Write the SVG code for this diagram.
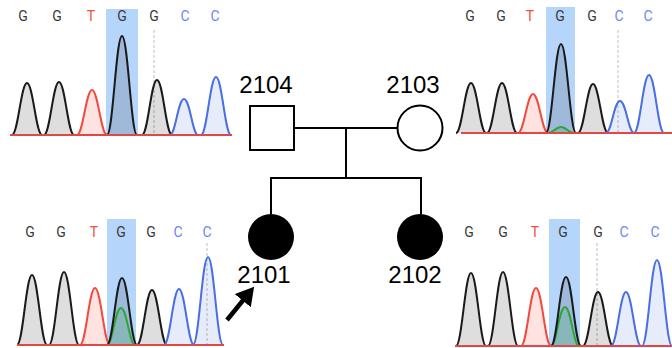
<svg xmlns="http://www.w3.org/2000/svg" width="672" height="348" viewBox="0 0 672 348">
<style>
.hl{fill:#b6d5fb}
.k{fill:#000;fill-opacity:0.13;stroke:#1a1a1a;stroke-width:2}
.r{fill:#ff2a1a;fill-opacity:0.13;stroke:#f24a3e;stroke-width:2}
.b{fill:#3a5fe0;fill-opacity:0.12;stroke:#4a6fe3;stroke-width:2}
.g{fill:#2ec03a;fill-opacity:0.18;stroke:#33c040;stroke-width:2}
.dash{stroke:#bdbdbd;stroke-width:1;stroke-dasharray:3,2}
.base{stroke:#e04848;stroke-width:2}
.nt{font-family:Roboto,"Liberation Sans",sans-serif;font-size:14px;text-anchor:middle}
.nG{fill:#3a3a3a}.nT{fill:#f0503c}.nC{fill:#6c86f0}
.lbl{font-family:"Liberation Sans",Arial,sans-serif;font-size:24px;text-anchor:middle;fill:#000}
.ped{fill:none;stroke:#000;stroke-width:2}
</style>
<defs>
<marker id="ah" markerWidth="4" markerHeight="4.6" refX="2.2" refY="2.3" orient="auto" markerUnits="strokeWidth">
<path d="M0,0 L4,2.3 L0,4.6 Z" fill="#000"/>
</marker>
</defs>

<g id="chrom-2104">
<rect class="hl" x="106" y="9" width="32" height="126"/>
<line class="dash" x1="154" y1="30" x2="154" y2="135"/>
<path class="k" d="M12,135 C18,135 21,83 27,83 C33,83 36,135 42,135"/>
<path class="k" d="M44,135 C50,135 53,82 59,82 C65,82 68,135 74,135"/>
<path class="r" d="M77,135 C83,135 86,90 92,90 C98,90 101,135 107,135"/>
<path class="k" d="M107,135 C113,135 116,36 122,36 C128,36 131,135 137,135"/>
<path class="k" d="M142,135 C148,135 151,80 157,80 C163,80 166,135 172,135"/>
<path class="b" d="M170,135 C175.5,135 178,99 184,99 C190,99 192.5,135 198,135"/>
<path class="b" d="M201,135 C207,135 210,77 216,77 C222,77 225,135 231,135"/>
<line class="base" x1="10" y1="135" x2="232" y2="135"/>
<text class="nt nG" x="23" y="21">G</text>
<text class="nt nG" x="57" y="21">G</text>
<text class="nt nT" x="91" y="21">T</text>
<text class="nt nG" x="122" y="21">G</text>
<text class="nt nG" x="154" y="21">G</text>
<text class="nt nC" x="185" y="21">C</text>
<text class="nt nC" x="215" y="21">C</text>
</g>

<g id="chrom-2103">
<rect class="hl" x="546" y="7" width="29" height="126"/>
<line class="dash" x1="618" y1="30" x2="618" y2="133"/>
<path class="k" d="M456,133 C462,133 465,83 471,83 C477,83 480,133 486,133"/>
<path class="k" d="M487,133 C493,133 496,83 502,83 C508,83 511,133 517,133"/>
<path class="r" d="M518,133 C524,133 527,94 533,94 C539,94 542,133 548,133"/>
<path class="g" d="M548,133 C553,133 556,127 561,127 C566,127 569,133 574,133"/>
<path class="k" d="M546,133 C552,133 555,44 561,44 C567,44 570,133 576,133"/>
<path class="k" d="M578,133 C584,133 587,84 593,84 C599,84 602,133 608,133"/>
<path class="b" d="M606,133 C611.5,133 614,101 620,101 C626,101 628.5,133 634,133"/>
<path class="b" d="M634,133 C640,133 643,75 649,75 C655,75 658,133 664,133"/>
<line class="base" x1="461" y1="133" x2="672" y2="133"/>
<text class="nt nG" x="470" y="21">G</text>
<text class="nt nG" x="501" y="21">G</text>
<text class="nt nT" x="530" y="21">T</text>
<text class="nt nG" x="560" y="21">G</text>
<text class="nt nG" x="592" y="21">G</text>
<text class="nt nC" x="619" y="21">C</text>
<text class="nt nC" x="648" y="21">C</text>
</g>

<g id="chrom-2101">
<rect class="hl" x="107" y="219" width="29" height="126"/>
<line class="dash" x1="207" y1="243" x2="207" y2="345"/>
<path class="k" d="M17,345 C23,345 26,275 32,275 C38,275 41,345 47,345"/>
<path class="k" d="M49,345 C55,345 58,272 64,272 C70,272 73,345 79,345"/>
<path class="r" d="M80,345 C86,345 89,288 95,288 C101,288 104,345 110,345"/>
<path class="g" d="M107,345 C112.5,345 115,308 121,308 C127,308 129.5,345 135,345"/>
<path class="k" d="M107,345 C113,345 116,278 122,278 C128,278 131,345 137,345"/>
<path class="k" d="M137,345 C143,345 146,290 152,290 C158,290 161,345 167,345"/>
<path class="b" d="M164,345 C170,345 173,289 179,289 C185,289 188,345 194,345"/>
<path class="b" d="M193,345 C199,345 202,257 208,257 C214,257 217,345 223,345"/>
<line class="base" x1="17" y1="345" x2="224" y2="345"/>
<text class="nt nG" x="30" y="237">G</text>
<text class="nt nG" x="61" y="237">G</text>
<text class="nt nT" x="94" y="237">T</text>
<text class="nt nG" x="121" y="237">G</text>
<text class="nt nG" x="151" y="237">G</text>
<text class="nt nC" x="178" y="237">C</text>
<text class="nt nC" x="207" y="237">C</text>
</g>

<g id="chrom-2102">
<rect class="hl" x="549" y="219" width="31" height="127"/>
<line class="dash" x1="597" y1="243" x2="597" y2="346"/>
<path class="k" d="M456,346 C462,346 465,273 471,273 C477,273 480,346 486,346"/>
<path class="k" d="M488,346 C494,346 497,272 503,272 C509,272 512,346 518,346"/>
<path class="r" d="M521,346 C527,346 530,288 536,288 C542,288 545,346 551,346"/>
<path class="g" d="M551,346 C556.5,346 559,307 565,307 C571,307 573.5,346 579,346"/>
<path class="k" d="M551,346 C557,346 560,277 566,277 C572,277 575,346 581,346"/>
<path class="k" d="M583,346 C589,346 592,292 598,292 C604,292 607,346 613,346"/>
<path class="b" d="M611,346 C617,346 620,292 626,292 C632,292 635,346 641,346"/>
<path class="b" d="M642,346 C648,346 651,260 657,260 C663,260 666,346 672,346"/>
<line class="base" x1="455" y1="346" x2="672" y2="346"/>
<text class="nt nG" x="469" y="237">G</text>
<text class="nt nG" x="503" y="237">G</text>
<text class="nt nT" x="535" y="237">T</text>
<text class="nt nG" x="563" y="237">G</text>
<text class="nt nG" x="598" y="237">G</text>
<text class="nt nC" x="624" y="237">C</text>
<text class="nt nC" x="655" y="237">C</text>
</g>

<g id="connectors">
<line class="ped" x1="294" y1="128" x2="397" y2="128"/>
<line class="ped" x1="346" y1="128" x2="346" y2="178"/>
<line class="ped" x1="270" y1="178" x2="422" y2="178"/>
<line class="ped" x1="271" y1="177" x2="271" y2="214"/>
<line class="ped" x1="421" y1="177" x2="421" y2="214"/>
<line x1="227" y1="320" x2="249" y2="293" stroke="#000" stroke-width="4.5" marker-end="url(#ah)"/>
</g>

<g id="n2104">
<rect class="ped" x="250" y="106" width="44" height="44" fill="#fff"/>
<text class="lbl" x="266" y="93">2104</text>
</g>
<g id="n2103">
<circle class="ped" cx="420" cy="128" r="22.5" fill="#fff"/>
<text class="lbl" x="413" y="93">2103</text>
</g>
<g id="n2101">
<circle cx="271" cy="237" r="23" fill="#000"/>
<text class="lbl" x="264" y="283">2101</text>
</g>
<g id="n2102">
<circle cx="420" cy="237" r="23" fill="#000"/>
<text class="lbl" x="415" y="283">2102</text>
</g>
</svg>
